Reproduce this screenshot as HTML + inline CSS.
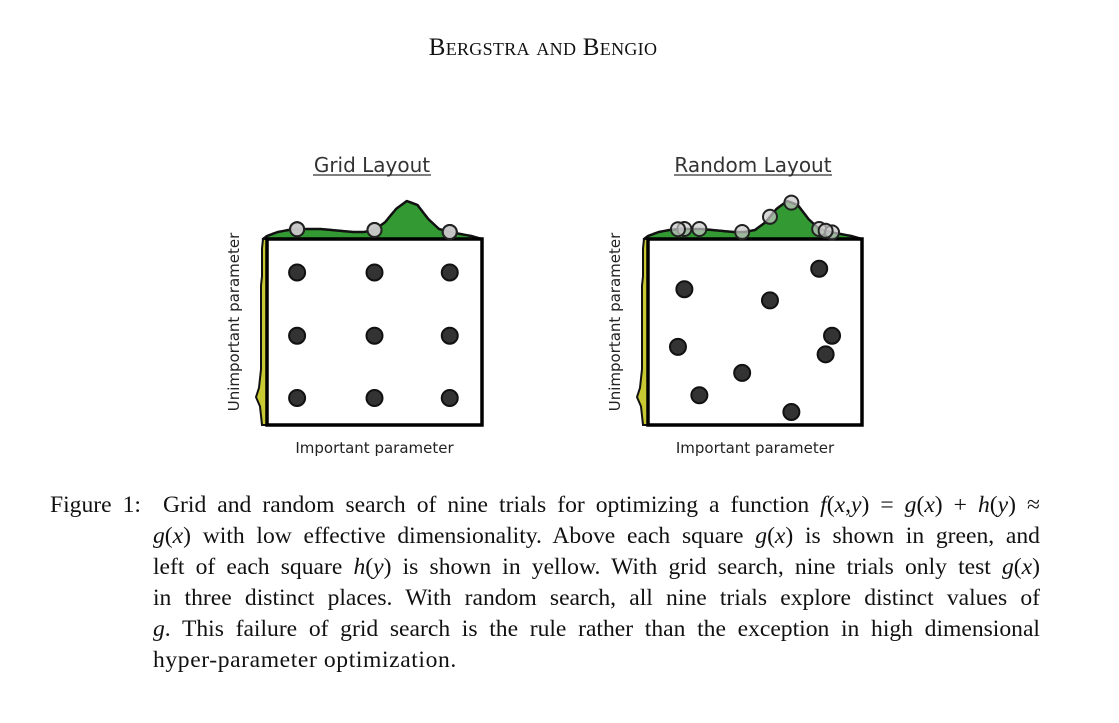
<!DOCTYPE html>
<html><head><meta charset="utf-8">
<style>
body{margin:0;width:1119px;height:723px;background:#fff;position:relative;overflow:hidden;font-family:"Liberation Serif",serif;color:#111}
.hdr{position:absolute;top:34px;left:0;width:1086px;text-align:center;font-size:25px;font-variant:small-caps;letter-spacing:0.3px}
.ln{position:absolute;left:153px;width:887px;font-size:23.6px;text-align:justify;text-align-last:justify;white-space:nowrap}
.ln.last{text-align-last:left;letter-spacing:0.6px}
i{font-style:italic}
svg{position:absolute;left:0;top:0}
</style></head><body>
<div class="hdr">Bergstra and Bengio</div>
<svg id="fig" width="1119" height="480"></svg>
<div class="ln" style="left:50px;width:990px;top:492px">Figure 1:&nbsp; Grid and random search of nine trials for optimizing a function <i>f</i>(<i>x</i>,<i>y</i>) = <i>g</i>(<i>x</i>) + <i>h</i>(<i>y</i>) ≈</div>
<div class="ln" style="top:523px"><i>g</i>(<i>x</i>) with low effective dimensionality. Above each square <i>g</i>(<i>x</i>) is shown in green, and</div>
<div class="ln" style="top:554px">left of each square <i>h</i>(<i>y</i>) is shown in yellow. With grid search, nine trials only test <i>g</i>(<i>x</i>)</div>
<div class="ln" style="top:585px">in three distinct places. With random search, all nine trials explore distinct values of</div>
<div class="ln" style="top:616px"><i>g</i>. This failure of grid search is the rule rather than the exception in high dimensional</div>
<div class="ln last" style="top:647px">hyper-parameter optimization.</div>
<script>
const gridX=[0.14,0.50,0.85,0.14,0.50,0.85,0.14,0.50,0.85];
const gridY=[0.82,0.82,0.82,0.48,0.48,0.48,0.145,0.145,0.145];
const randX=[0.17,0.57,0.80,0.14,0.86,0.83,0.44,0.24,0.67];
const randY=[0.73,0.67,0.84,0.42,0.48,0.38,0.28,0.16,0.07];
const gSamples=[3,7,9,10,10,10,9,8,7,7,9,17,30,38,34,20,10,7,5,3,0];
const hSamples=[2,3,4,8,5,4,3,3,3,3,3,3,3,3,3,3,2,2,2,2,1];
const NS="http://www.w3.org/2000/svg";
const svg=document.getElementById('fig');
function mk(t,a,p){const e=document.createElementNS(NS,t);for(const k in a)e.setAttribute(k,a[k]);(p||svg).appendChild(e);return e;}
function gAt(x){const f=x*(gSamples.length-1),i=Math.min(Math.floor(f),gSamples.length-2),t=f-i;return gSamples[i]*(1-t)+gSamples[i+1]*t;}
function panel(L,T,W,H,xs,ys,title,cx,name){
  const sx=v=>L+v*W, sy=v=>T+H-v*H, gy=v=>T-gAt(v);
  const grp=mk('g',{});
  
  
  let d=`M${L-4},${T}`;
  for(let i=0;i<=100;i++){const v=i/100;d+=` L${sx(v).toFixed(1)},${gy(v).toFixed(1)}`;}
  d+=` L${L+W},${T} Z`;
  const gp=mk('path',{d,fill:'#339933',stroke:'#111','stroke-width':2.5,'stroke-linejoin':'round'},grp);
  
  
  let hd=`M${L},${T+H}`;
  for(let i=0;i<hSamples.length;i++){const v=i/(hSamples.length-1);hd+=` L${L-hSamples[i]-3},${(T+H-v*H).toFixed(1)}`;}
  hd+=` L${L},${T} Z`;
  const hp=mk('path',{d:hd,fill:'#c8c832',stroke:'#111','stroke-width':2},grp);
  
  
  const box=mk('rect',{x:L,y:T,width:W,height:H,fill:'#fff',stroke:'#000','stroke-width':3.5},grp);
  
  
  for(let i=0;i<xs.length;i++){
    const c=mk('circle',{cx:sx(xs[i]),cy:gy(xs[i]),r:7,fill:'rgba(200,200,200,0.7)',stroke:'#222','stroke-width':2},grp);
    
    
  }
  for(let i=0;i<xs.length;i++){
    const c=mk('circle',{cx:sx(xs[i]),cy:sy(ys[i]),r:8,fill:'#333',stroke:'#111','stroke-width':2},grp);
    
    
  }
  const t=mk('text',{x:cx,y:172,'text-anchor':'middle','font-family':'DejaVu Sans, sans-serif','font-size':20,fill:'#333'},grp);
  t.textContent=title;
  
  
  const hw=title.length>11?79:59;
  mk('line',{x1:cx-hw,x2:cx+hw,y1:175,y2:175,stroke:'#333','stroke-width':1.3},grp);
  const xl=mk('text',{x:L+W/2,y:453,'text-anchor':'middle','font-family':'DejaVu Sans, sans-serif','font-size':15,fill:'#222'},grp);
  xl.textContent='Important parameter';
  
  
  const yl=mk('text',{x:0,y:0,'text-anchor':'middle','font-family':'DejaVu Sans, sans-serif','font-size':15,fill:'#222',transform:`translate(${L-28},${T+H/2-10}) rotate(-90)`},grp);
  yl.textContent='Unimportant parameter';
  
  
}
panel(267,239,215,186,gridX,gridY,'Grid Layout',372,'grid-layout-panel');
panel(648,239,214,186,randX,randY,'Random Layout',753,'random-layout-panel');
</script>
</body></html>
